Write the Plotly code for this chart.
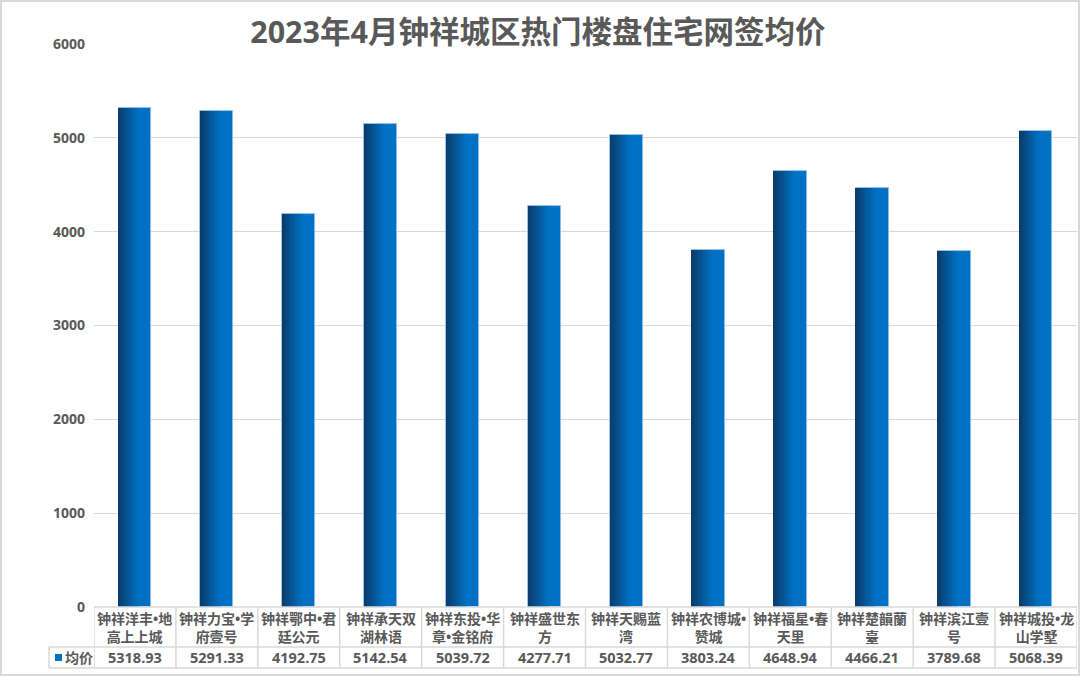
import plotly.graph_objects as go

# ---- data ----
title_text = "2023年4月钟祥城区热门楼盘住宅网签均价"
series_name = "均价"
categories = ["钟祥洋丰•地高上上城", "钟祥力宝•学府壹号", "钟祥鄂中•君廷公元", "钟祥承天双湖林语",
              "钟祥东投•华章•金铭府", "钟祥盛世东方", "钟祥天赐蓝湾", "钟祥农博城•赞城",
              "钟祥福星•春天里", "钟祥楚韻蘭臺", "钟祥滨江壹号", "钟祥城投•龙山学墅"]
tick_labels = ["钟祥洋丰•地<br>高上上城", "钟祥力宝•学<br>府壹号", "钟祥鄂中•君<br>廷公元", "钟祥承天双<br>湖林语",
               "钟祥东投•华<br>章•金铭府", "钟祥盛世东<br>方", "钟祥天赐蓝<br>湾", "钟祥农博城•<br>赞城",
               "钟祥福星•春<br>天里", "钟祥楚韻蘭<br>臺", "钟祥滨江壹<br>号", "钟祥城投•龙<br>山学墅"]
values = [5318.93, 5291.33, 4192.75, 5142.54, 5039.72, 4277.71,
          5032.77, 3803.24, 4648.94, 4466.21, 3789.68, 5068.39]
y_ticks = [0, 1000, 2000, 3000, 4000, 5000, 6000]

# ---- layout helpers (pixel -> paper) ----
W, H = 1080, 677
def px(x):
    return x / W
def py(y):
    return 1 - y / H

FONT = "Open Sans, Noto Sans CJK SC"
GRAY = "#595959"
LINE = "#D9D9D9"

x_idx = list(range(len(categories)))
bar_w = 0.40

fig = go.Figure()

# base bar (solid right-side colour)
fig.add_trace(go.Bar(
    x=x_idx, y=values, name=series_name, width=bar_w,
    marker=dict(color="#0071C4", line=dict(color="#9DC3E6", width=0.8)),
    hoverinfo="x+y", showlegend=False))

# gradient slices on the left part of each bar
N = 12
grad_frac = 0.62
c0 = (10, 58, 105)
c1 = (0, 113, 196)
sw = bar_w * grad_frac / N
for i in range(N):
    t = (i + 0.5) / N
    col = tuple(int(round(c0[k] + (c1[k] - c0[k]) * t)) for k in range(3))
    fig.add_trace(go.Bar(
        x=x_idx, y=values, width=sw * 1.15, offset=-bar_w / 2 + i * sw,
        marker=dict(color="rgb(%d,%d,%d)" % col, line=dict(width=0)),
        hoverinfo="skip", showlegend=False))

x0p, x1p = 94, 1077
y_top, y_zero = 44, 607
row1_bottom, row2_bottom = 647, 668
label_left = 49

fig.update_layout(
    template="none",
    width=W, height=H,
    margin=dict(l=0, r=0, t=0, b=0, autoexpand=False),
    paper_bgcolor="white", plot_bgcolor="white",
    barmode="overlay", bargap=0,
    showlegend=False,
    font=dict(family=FONT, color=GRAY),
    title=dict(text=title_text, x=0.498, xanchor="center", xref="paper",
               y=py(32), yanchor="middle", yref="container",
               font=dict(family=FONT, size=30.5, color=GRAY, weight="bold")),
    xaxis=dict(domain=[px(x0p), px(x1p)], range=[-0.5, len(categories) - 0.5],
               showticklabels=False, showgrid=False, zeroline=False, showline=False,
               ticks="", automargin=False),
    yaxis=dict(domain=[py(y_zero), py(y_top)], range=[0, 6000],
               tickvals=y_ticks, ticktext=[str(v) for v in y_ticks],
               showgrid=True, gridcolor=LINE, gridwidth=1.3, zeroline=False,
               showline=False, ticks="", ticklabelstandoff=8, automargin=False,
               tickfont=dict(family=FONT, size=14, color=GRAY, weight="bold")),
)

shapes = []
# table horizontal lines
shapes.append(dict(type="line", xref="paper", yref="paper", x0=px(x0p), x1=px(x1p),
                   y0=py(y_zero), y1=py(y_zero), line=dict(color=LINE, width=1.5)))
for yy in (row1_bottom, row2_bottom):
    shapes.append(dict(type="line", xref="paper", yref="paper", x0=px(label_left), x1=px(x1p),
                       y0=py(yy), y1=py(yy), line=dict(color=LINE, width=1.5)))
# table vertical lines at category boundaries
for i in range(len(categories) + 1):
    shapes.append(dict(type="line", xref="x", yref="paper", x0=i - 0.5, x1=i - 0.5,
                       y0=py(y_zero), y1=py(row2_bottom), line=dict(color=LINE, width=1.5)))
# label cell left edge
shapes.append(dict(type="line", xref="paper", yref="paper", x0=px(label_left), x1=px(label_left),
                   y0=py(row1_bottom), y1=py(row2_bottom), line=dict(color=LINE, width=1.5)))
# legend key square
shapes.append(dict(type="rect", xref="paper", yref="paper", x0=px(55), x1=px(62),
                   y0=py(661), y1=py(654), fillcolor="#0070C0", line=dict(width=0)))
# outer frame
shapes.append(dict(type="rect", xref="paper", yref="paper", x0=px(1), x1=px(1079),
                   y0=py(675), y1=py(1), line=dict(color=LINE, width=2),
                   fillcolor="rgba(0,0,0,0)", layer="below"))

annotations = []
for i, lab in enumerate(tick_labels):
    annotations.append(dict(x=i, xref="x", y=py(627), yref="paper", text=lab,
                            showarrow=False, xanchor="center", yanchor="middle",
                            font=dict(family=FONT, size=14, color=GRAY, weight="bold"),
                            align="center"))
    annotations.append(dict(x=i, xref="x", y=py(657.5), yref="paper", text=f"{values[i]:.2f}",
                            showarrow=False, xanchor="center", yanchor="middle",
                            font=dict(family=FONT, size=14.5, color=GRAY, weight="bold")))
annotations.append(dict(x=px(63), xref="paper", y=py(657.5), yref="paper", text=series_name,
                        showarrow=False, xanchor="left", yanchor="middle",
                        font=dict(family=FONT, size=14, color=GRAY, weight="bold")))

fig.update_layout(shapes=shapes, annotations=annotations)

fig.write_html("out.html", config={"displayModeBar": False},
               post_script="document.body.style.margin='0';document.body.style.overflow='hidden';")
